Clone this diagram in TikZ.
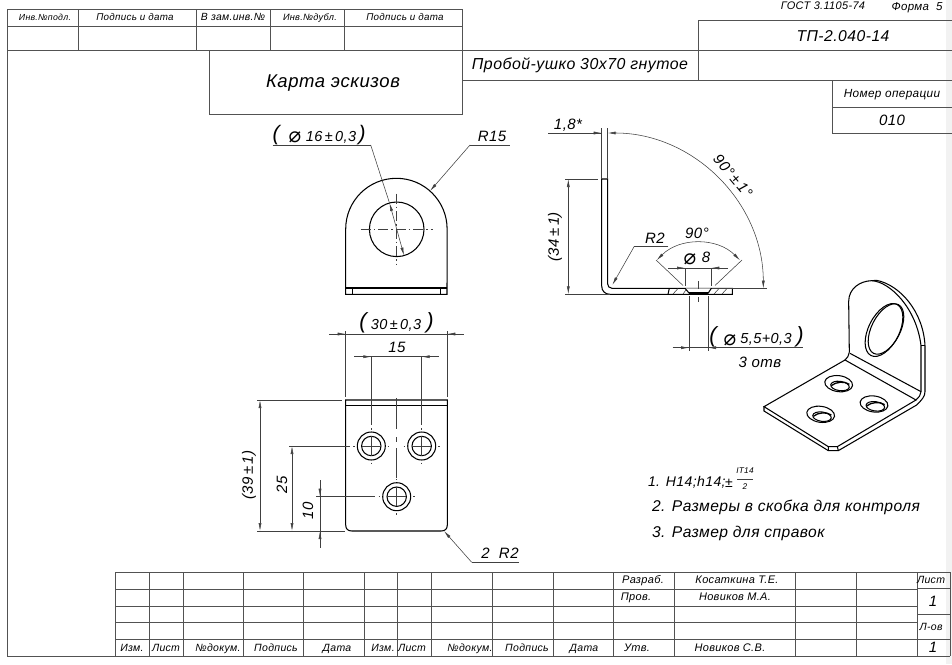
\documentclass[tikz,border=0pt]{standalone}
\usepackage{fontspec}
\setmainfont{Liberation Sans}[LetterSpace=3]
\newfontfamily\symf{DejaVu Sans}
\usetikzlibrary{arrows.meta}
\definecolor{frameline}{gray}{0.32}
\definecolor{dimline}{gray}{0.25}
\tikzset{
  frameln/.style={draw=frameline,line width=0.95pt},
  main/.style={draw=black,line width=1.05pt},
  thinl/.style={draw=dimline,line width=0.55pt},
  ctr/.style={draw=dimline,line width=0.5pt,dash pattern=on 10pt off 3pt on 1.5pt off 3pt},
  tipb/.style={{Latex[length=8pt,width=3pt]}-{Latex[length=8pt,width=3pt]}},
  tipe/.style={-{Latex[length=8pt,width=3pt]}},
  tips/.style={{Latex[length=8pt,width=3pt]}-},
  lab/.style={inner sep=0pt,outer sep=0pt,text=black}
}
\newcommand{\T}[5][anchor=base]{\node[lab,#1,yshift={(1-0.36*#4)*1pt}] (#2) at (#3) {\fontsize{#4}{#4}\selectfont\itshape #5};}
\newcommand{\TC}[5][]{\node[lab,anchor=center,#1] (#2) at (#3) {\fontsize{#4}{#4}\selectfont\itshape #5};}
\newcommand{\Phisym}{{\symf\upshape ⌀}}
\begin{document}
\begin{tikzpicture}[x=1pt,y=-1pt]
\useasboundingbox (0,0) rectangle (952,664);
\fill[black!5] (946,0) rectangle (952,664);
% ---- top-left stamp and frame
\draw[frameln] (7,656)--(7,9)--(462,9)--(462,114)--(209,114)--(209,50);
\draw[frameln] (7,26)--(462,26);
\draw[frameln] (7,50)--(952,50);
\foreach \x in {78,196,270,344} \draw[frameln] (\x,9)--(\x,50);
\draw[frameln] (462,80)--(952,80);
\draw[frameln] (698,20)--(952,20);
\draw[frameln] (698,20)--(698,80);
\draw[frameln] (832,80)--(832,133)--(952,133);
\draw[frameln] (832,107)--(952,107);
\T{a1}{45,18}{8.8}{Инв.№подл.}
\T{a2}{135,18}{9.8}{Подпись и дата}
\T{a3}{233,18}{10.4}{В зам.инв.№}
\T{a4}{310,18}{9.2}{Инв.№дубл.}
\T{a5}{405,18}{9.8}{Подпись и дата}
\T{a6}{333,82}{18.5}{Карта эскизов}
\T{a7}{580,65}{15.9}{Пробой-ушко 30х70 гнутое}
\T{a8}{843,37}{15.7}{ТП-2.040-14}
\T{a9}{823,7}{11}{ГОСТ 3.1105-74}
\T{a10}{917,7}{11.5}{Форма\ \ 5}
\T{a11}{892,94}{11.8}{Номер операции}
\T{a12}{892,121}{15}{010}
% ---- title block
\foreach \y in {572,589,606,622,639} \draw[frameln] (115,\y)--(917,\y);
\draw[frameln] (917,572)--(950,572);
\draw[frameln] (7,656)--(950,656);
\foreach \x in {115,149,183,243,303,364,397,431,492,553,613,674,795,856,917,950}
  \draw[frameln] (\x,572)--(\x,656);
\draw[frameln] (917,588)--(950,588);
\draw[frameln] (917,614)--(950,614);
\draw[frameln] (917,639)--(950,639);
\T{b1}{132,649}{10.5}{Изм.}
\T{b2}{166,649}{10.5}{Лист}
\T{b3}{218,649}{10.5}{№докум.}
\T{b4}{276,649}{10.5}{Подпись}
\T{b5}{337,649}{10.5}{Дата}
\T{b6}{383,649}{10.5}{Изм.}
\T{b7}{412,649}{10.5}{Лист}
\T{b8}{470,649}{10.5}{№докум.}
\T{b9}{527,649}{10.5}{Подпись}
\T{b10}{584,649}{10.5}{Дата}
\T{b11}{643,581}{11}{Разраб.}
\T{b12}{737,581}{11}{Косаткина Т.Е.}
\T{b13}{636,598}{11}{Пров.}
\T{b14}{735,598}{11}{Новиков М.А.}
\T{b15}{637,649}{11}{Утв.}
\T{b16}{730,649}{11}{Новиков С.В.}
\T{b17}{931,581}{10.5}{Лист}
\T{b18}{933,602}{15}{1}
\T{b19}{931,628}{10.5}{Л-ов}
\T{b20}{933,648}{15}{1}
% ---- eyelet view
\draw[main] (345.7,294.3)--(345.7,229) arc[start angle=180,end angle=360,radius=50.7]--(447,294.3)--cycle;
\draw[main] (345.7,288)--(447,288);
\draw[main] (352.7,288)--(352.7,294.3) (440.3,288)--(440.3,294.3);
\draw[main] (396.7,229.3) circle[radius=27.3];
\draw[ctr] (360.7,229.3)--(432.7,229.3);
\draw[ctr] (396.7,193.7)--(396.7,265);
\draw[thinl] (272.7,145)--(370.7,145);
\draw[thinl,tipb] (389.5,203)--(404,255.5);
\draw[thinl] (370.7,145)--(389.5,203);
\draw[thinl] (470,145)--(510,145);
\draw[thinl,tipe] (470,145)--(430,191);
\T{c1}{276,134}{21}{(}
\T{c2}{295,136}{21}{\Phisym}
\T{c3}{331,137}{14.5}{16\,±\,0,3}
\T{c4}{362,134}{21}{)}
\T{c5}{492,137}{15}{R15}
% ---- flat view
\draw[main] (345.7,400)--(447.3,400)--(447.3,525) .. controls (447.3,529) and (445,531) .. (441,531)
  --(352,531) .. controls (348,531) and (345.7,529) .. (345.7,525)--cycle;
\draw[main] (345.7,405.7)--(447.3,405.7);
\foreach \cx/\cy in {371.3/446,421.7/446,396.7/496.7}{
  \draw[main] (\cx,\cy) circle[radius=14];
  \draw[main] (\cx,\cy) circle[radius=9.7];
  \draw[thinl] (\cx-9.7,\cy)--(\cx+9.7,\cy) (\cx,\cy-9.7)--(\cx,\cy+9.7);
  \draw[thinl] (\cx-18,\cy)--(\cx-16.5,\cy) (\cx+16.5,\cy)--(\cx+18,\cy) (\cx,\cy-18)--(\cx,\cy-16.5) (\cx,\cy+16.5)--(\cx,\cy+18);
}
\draw[thinl] (396.7,398)--(396.7,429) (396.7,437)--(396.7,442) (396.7,448)--(396.7,478);
% dims
\draw[thinl] (345.7,331)--(345.7,397) (447.3,331)--(447.3,397);
\draw[thinl] (329,334)--(464,334);
\draw[thinl,tips] (345.7,334)--(329,334);
\draw[thinl,tips] (447.3,334)--(464,334);
\T{d1}{363,322}{22}{(}
\T{d2}{396,325}{14.5}{30\,±\,0,3}
\T{d3}{430,322}{22}{)}
\draw[thinl] (371.3,356.7)--(371.3,425) (421.7,356.7)--(421.7,425);
\draw[thinl] (354,356.7)--(439,356.7);
\draw[thinl,tips] (371.3,356.7)--(354,356.7);
\draw[thinl,tips] (421.7,356.7)--(439,356.7);
\T{d4}{397,348}{15}{15}
\draw[thinl] (257,400)--(342,400) (257,531)--(345,531);
\draw[thinl,tipb] (260,400)--(260,531);
\TC[rotate=90]{d5}{249,475}{15}{(39\,±\,1)}
\draw[thinl] (289,446)--(350,446);
\draw[thinl,tipb] (292,446)--(292,531);
\TC[rotate=90]{d6}{282,485}{15}{25}
\draw[thinl] (316,496.7)--(375,496.7);
\draw[thinl] (320,480)--(320,547.7);
\draw[thinl,tipe] (320,480)--(320,496.7);
\draw[thinl,tipe] (320,547.7)--(320,531);
\TC[rotate=90]{d7}{308,511}{15}{10}
\draw[thinl] (519,562.3)--(471.7,562.3);
\draw[thinl,tipe] (471.7,562.3)--(444,531);
\T{d8}{500,554}{15}{2\ \ R2}
% ---- side view
\draw[main] (607.7,179)--(601.7,179)--(601.7,286) .. controls (601.7,291) and (605,294.3) .. (610,294.3)--(732.3,294.3)--(732.3,288.3)--(612,288.3) .. controls (609,288.3) and (607.7,286) .. (607.7,284)--cycle;
\draw[main] (669.3,288.3)--(668,294.3);
\draw[thinl] (673,294)--(678,288.5) (683,294)--(687,288.5) (714,294)--(719,288.5) (722,294)--(727,288.5);
\fill[white] (685,288.3)--(711.3,288.3)--(708.3,293)--(689,293)--cycle;
\draw[main] (685,288.3)--(689,293)--(708.3,293)--(711.3,288.3);
\draw[draw=black,line width=1.6pt] (689,293)--(708.3,293);
\draw[thinl] (698.3,281)--(698.3,289) (698.3,297)--(698.3,302);
\draw[thinl] (601.7,128)--(601.7,179) (607.7,128)--(607.7,179);
\draw[thinl] (548,133)--(601.7,133);
\draw[thinl,tipe] (584,133)--(601.7,133);
\draw[thinl,tipb] (607.7,133) arc[start angle=270,end angle=360,radius=155.6];
\draw[thinl] (712,288.3)--(766.7,288.3);
\T{e1}{568,125}{15}{1,8*}
\TC[rotate=-50]{e2}{733,176}{15}{90°\,±\,1°}
\draw[thinl] (565,179)--(598,179) (565,294.3)--(610,294.3);
\draw[thinl,tipb] (568.3,179)--(568.3,294.3);
\TC[rotate=90]{e3}{555,237}{15}{(34\,±\,1)}
\draw[thinl] (668.3,246.3)--(634.3,246.3);
\draw[thinl,tipe] (634.3,246.3)--(612.3,285);
\T{e4}{655,239}{15}{R2}
\draw[thinl,tipb] (656.6,260.3) arc[start angle=225,end angle=315,radius=59];
\draw[thinl] (656,260)--(683,285.5) (742,260)--(715,285.5);
\T{e5}{697,234}{15}{90°}
\T{e6}{690,258}{21}{\Phisym}
\T{e7}{706,258}{15}{8}
\draw[thinl] (668,268)--(728,268);
\draw[thinl,tips] (685,268)--(668,268);
\draw[thinl,tips] (711.3,268)--(728,268);
\draw[thinl] (685,268)--(685,286) (711.3,268)--(711.3,286);
\draw[thinl] (689,296)--(689,350.7) (708,296)--(708,350.7);
\draw[thinl] (672.7,347.7)--(803,347.7);
\draw[thinl,tips] (689,347.7)--(672.7,347.7);
\draw[thinl,tips] (708,347.7)--(724,347.7);
\T{e8}{713,336}{22}{(}
\T{e9}{730,339}{21}{\Phisym}
\T{e10}{766,339}{14.5}{5,5+0,3}
\T{e11}{800,336}{22}{)}
\T{e12}{760,363}{15}{3\ отв}
% ---- isometric view
\begin{scope}[shift={(760,275)},x=0.3333pt,y=-0.3333pt]
\draw[main] (268,232)--(266,80) .. controls (266,40) and (300,18) .. (335,17)
  .. controls (390,20) and (470,100) .. (483,212)--(483,350) .. controls (483,360) and (476,368) .. (468,375);
\draw[main] (335,17)--(350,16) .. controls (420,30) and (490,110) .. (495,212)--(495,350)
  .. controls (495,365) and (485,375) .. (470,390)--(235,527)--(205,527)--(12,408)--(12,395);
\draw[main] (483,212)--(495,212);
\draw[main] (268,232) .. controls (266,242) and (262,250) .. (255,255);
\draw[main] (270,235)--(483,350);
\draw[main] (255,255)--(468,375)--(232,515)--(205,515)--(12,395)--cycle;
\draw[main] (205,515)--(205,527) (232,515)--(235,527);
\draw[main] (372,165) ellipse[x radius=46,y radius=86,rotate=-27];
\draw[main] (378,162) ellipse[x radius=43,y radius=82,rotate=-27];
\foreach \cx/\cy in {236/326,342/387,182/418}{
  \draw[main] (\cx,\cy) ellipse[x radius=42,y radius=24,rotate=-8];
  \draw[main] (\cx+4,\cy+7) ellipse[x radius=28,y radius=14,rotate=-8];
  \draw[line width=1.3pt] (\cx-22,\cy+6) .. controls (\cx-8,\cy-6) and (\cx+18,\cy-8) .. (\cx+32,\cy+2);
}
\end{scope}
% ---- notes
\T[anchor=base west]{f1}{648,482}{14}{1. H14;h14;}
\T{f2}{729,483}{14}{±}
\T{f3}{745,472}{8.3}{IT14}
\T{f4}{745,488}{8.3}{2}
\draw[thinl] (737,479)--(753,479);
\T[anchor=base west]{f5}{652,507}{15.6}{2. Размеры в скобка для контроля}
\T[anchor=base west]{f6}{652,533}{15.6}{3. Размер для справок}
\end{tikzpicture}
\end{document}
